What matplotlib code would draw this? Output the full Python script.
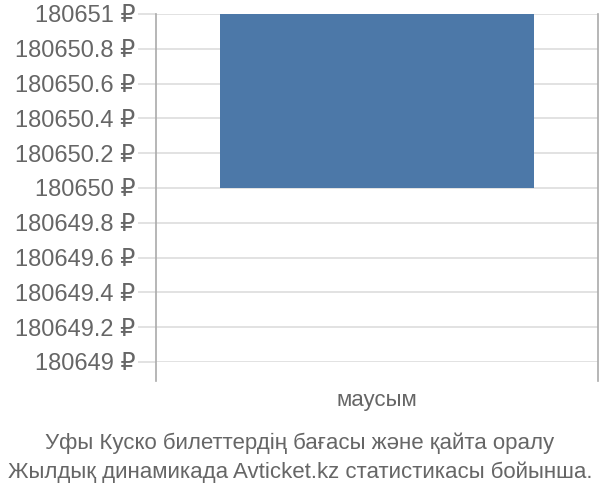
import numpy as np
import matplotlib.pyplot as plt

plt.rcParams['font.family'] = ['Liberation Sans', 'DejaVu Sans']

# данные
categories = ['маусым']
bar_bottom = [180650]
bar_top = [180651]
y_ticks = [180649, 180649.2, 180649.4, 180649.6, 180649.8, 180650,
           180650.2, 180650.4, 180650.6, 180650.8, 180651]
title_lines = ['Уфы Куско билеттердің бағасы және қайта оралу',
               'Жылдық динамикада Avticket.kz статистикасы бойынша.']


def fmt(v):
    s = f'{v:.1f}'.rstrip('0').rstrip('.')
    return s + ' ₽'


fig = plt.figure(figsize=(6, 5), dpi=100)
ax = fig.add_axes([0.26, 0.276, 0.737, 0.696])

x = np.arange(len(categories))
heights = np.array(bar_top) - np.array(bar_bottom)
ax.bar(x, heights, bottom=bar_bottom, width=0.71, color='#4c78a8', zorder=3)

ax.set_xlim(-0.5, len(categories) - 0.5)
ax.set_ylim(180649, 180651)
ax.set_yticks(y_ticks)
ax.set_yticklabels([fmt(v) for v in y_ticks], fontsize=17, color='#666666')
ax.yaxis.grid(True, color='#dddddd', linewidth=1.2, zorder=0)
ax.tick_params(axis='y', length=13, color='#dddddd', width=1.2, pad=2)

ax.set_xticks(x)
ax.set_xticklabels(categories, fontsize=16, color='#666666')
ax.tick_params(axis='x', length=0, pad=20)

for s in ['top', 'right', 'bottom', 'left']:
    ax.spines[s].set_visible(False)

# вертикальные границы категории, выходят ниже оси
for xv in [-0.5, len(categories) - 0.5]:
    ax.plot([xv, xv], [180648.89, 180651], color='#aaaaaa', linewidth=1.2,
            clip_on=False, zorder=4)

fig.text(0.5, 0.113, title_lines[0], ha='center', va='center', fontsize=16, color='#666666')
fig.text(0.5, 0.055, title_lines[1], ha='center', va='center', fontsize=16, color='#666666')

fig.savefig('out.png', dpi=100)
